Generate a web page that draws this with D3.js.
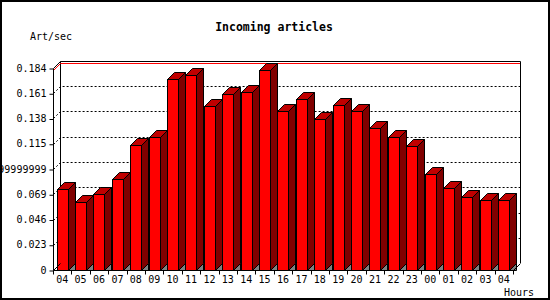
<!DOCTYPE html>
<html>
<head>
  <meta charset="utf-8">
  <script src="https://d3js.org/d3.v7.min.js"></script>
  <style>
    body { margin: 0; background: #fff; }
    text { font-family: "DejaVu Sans Mono", monospace; fill: #000; }
  </style>
</head>
<body>
  <div id="chart"></div>
  <script type="text/javascript">
  // hours of the day, one bar each
  var hours = ["04","05","06","07","08","09","10","11","12","13","14","15","16",
               "17","18","19","20","21","22","23","00","01","02","03","04"];
  var artPerSec = [0.0737,0.0616,0.0691,0.0825,0.1137,0.1213,0.1743,0.178,0.1498,
                   0.1607,0.1625,0.1825,0.1446,0.1561,0.1373,0.1501,0.1446,0.1291,
                   0.121,0.1134,0.087,0.0743,0.0661,0.0634,0.0634];
  var yTickValues = [0,0.023,0.046,0.069,0.092,0.115,0.138,0.161,0.184];
  var yTickLabels = ["0","0.023","0.046","0.069","0.09199999999","0.115","0.138","0.161","0.184"];

  var W = 550, H = 300, depth = 7;
  var svg = d3.select("#chart").append("svg")
      .attr("width", W)
      .attr("height", H);

  svg.append("rect")
      .attr("x", 1).attr("y", 1).attr("width", W - 2).attr("height", H - 2)
      .attr("fill", "#fff").attr("stroke", "#000").attr("stroke-width", 2);

  var x = d3.scaleBand()
      .domain(d3.range(hours.length))
      .range([53, 513])
      .paddingInner(0).paddingOuter(0);

  var y = d3.scaleLinear()
      .domain([0, 0.184])
      .range([270, 68]);

  var bw = x.bandwidth() * 0.6;
  var y0 = y(0), yT = y(0.184);
  var left = x.range()[0], right = x.range()[1];

  // back wall
  svg.append("path")
      .attr("d", "M" + (left + depth + .5) + "," + (y0 - depth) + "V" + (yT - depth + .5) +
                 "H" + (right + depth + .5) + "V" + (y0 - depth))
      .attr("fill", "none").attr("stroke", "#000");

  // grid lines (dotted, front edge to back wall)
  svg.append("g").selectAll("path")
      .data(yTickValues.slice(1, -1))
    .enter().append("path")
      .attr("d", function(d) {
        var yy = Math.round(y(d)) + .5;
        return "M" + (left + .5) + "," + yy + "L" + (left + depth + .5) + "," + (yy - depth) +
               "H" + (right + depth + .5);
      })
      .attr("fill", "none").attr("stroke", "#000").attr("stroke-dasharray", "2,2");

  // max line
  var ym = Math.round(y(d3.max(artPerSec))) + .5;
  svg.append("path")
      .attr("d", "M" + (left + .5) + "," + ym + "L" + (left + depth + .5) + "," + (ym - depth) +
                 "H" + (right + depth))
      .attr("fill", "none").attr("stroke", "#ff0000");

  // bars
  var bars = svg.append("g").selectAll("g")
      .data(artPerSec)
    .enter().append("g")
      .attr("stroke", "#000").attr("stroke-linejoin", "miter");

  function bx(i) { return Math.round(x(i) + (x.bandwidth() - bw) / 2) + .5; }
  function by(d) { return Math.round(y(d)) + .5; }

  bars.append("path")
      .attr("fill", "#808080")
      .attr("d", function(d, i) {
        var a = bx(i) + Math.round(bw), b = y0 + .5;
        return "M" + a + "," + b + "L" + (a + depth) + "," + (b - depth) + "V" + b + "Z";
      });
  bars.append("path")
      .attr("fill", "#800000")
      .attr("d", function(d, i) {
        var a = bx(i) + Math.round(bw), t = by(d), b = y0 + .5;
        return "M" + a + "," + t + "L" + (a + depth) + "," + (t - depth) +
               "V" + (b - depth) + "L" + a + "," + b + "Z";
      });
  bars.append("path")
      .attr("fill", "#c00000")
      .attr("d", function(d, i) {
        var a = bx(i), t = by(d), w = Math.round(bw);
        return "M" + a + "," + t + "L" + (a + depth) + "," + (t - depth) +
               "H" + (a + w + depth) + "L" + (a + w) + "," + t + "Z";
      });
  bars.append("rect")
      .attr("fill", "#ff0000")
      .attr("x", function(d, i) { return bx(i); })
      .attr("y", function(d) { return by(d); })
      .attr("width", Math.round(bw))
      .attr("height", function(d) { return y0 + .5 - by(d); });

  // floor edges
  svg.append("path")
      .attr("d", "M" + (left + .5) + "," + (y0 + .5) + "l" + depth + "," + (-depth) +
                 "M" + (right + .5) + "," + (y0 + .5) + "l" + depth + "," + (-depth))
      .attr("fill", "none").attr("stroke", "#000");

  // y axis
  var yAxis = svg.append("g")
      .attr("transform", "translate(" + (left + .5) + ",0)")
      .call(d3.axisLeft(y)
        .tickValues(yTickValues)
        .tickFormat(function(d, i) { return yTickLabels[i]; })
        .tickSize(4).tickPadding(3));
  yAxis.select(".domain").attr("d", "M0," + (y0 + .5) + "V" + (yT + .5) + "l" + depth + "," + (-depth));
  yAxis.selectAll(".tick line").attr("transform", "translate(0,0.5)");
  yAxis.selectAll("text").style("font-family", "DejaVu Sans Mono").style("font-size", "10px");

  // x axis
  var xAxis = svg.append("g")
      .attr("transform", "translate(0," + (y0 + .5) + ")");
  xAxis.append("path")
      .attr("d", "M" + (left + .5) + ",0H" + (right + .5))
      .attr("stroke", "#000");
  xAxis.selectAll("line")
      .data(d3.range(hours.length + 1))
    .enter().append("line")
      .attr("x1", function(i) { return Math.round(left + i * x.step()) + .5; })
      .attr("x2", function(i) { return Math.round(left + i * x.step()) + .5; })
      .attr("y1", 0).attr("y2", 4)
      .attr("stroke", "#000");
  xAxis.selectAll("text")
      .data(hours)
    .enter().append("text")
      .attr("x", function(d, i) { return x(i) + x.bandwidth() / 2; })
      .attr("y", 12)
      .attr("text-anchor", "middle")
      .style("font-size", "10px")
      .text(function(d) { return d; });

  // titles
  svg.append("text")
      .attr("x", 274).attr("y", 31)
      .attr("text-anchor", "middle")
      .style("font-size", "11.5px").style("font-weight", "bold")
      .text("Incoming articles");
  svg.append("text")
      .attr("x", 30).attr("y", 40)
      .style("font-size", "10px")
      .text("Art/sec");
  svg.append("text")
      .attr("x", 534).attr("y", 296)
      .attr("text-anchor", "end")
      .style("font-size", "10px")
      .text("Hours");
  </script>
</body>
</html>
